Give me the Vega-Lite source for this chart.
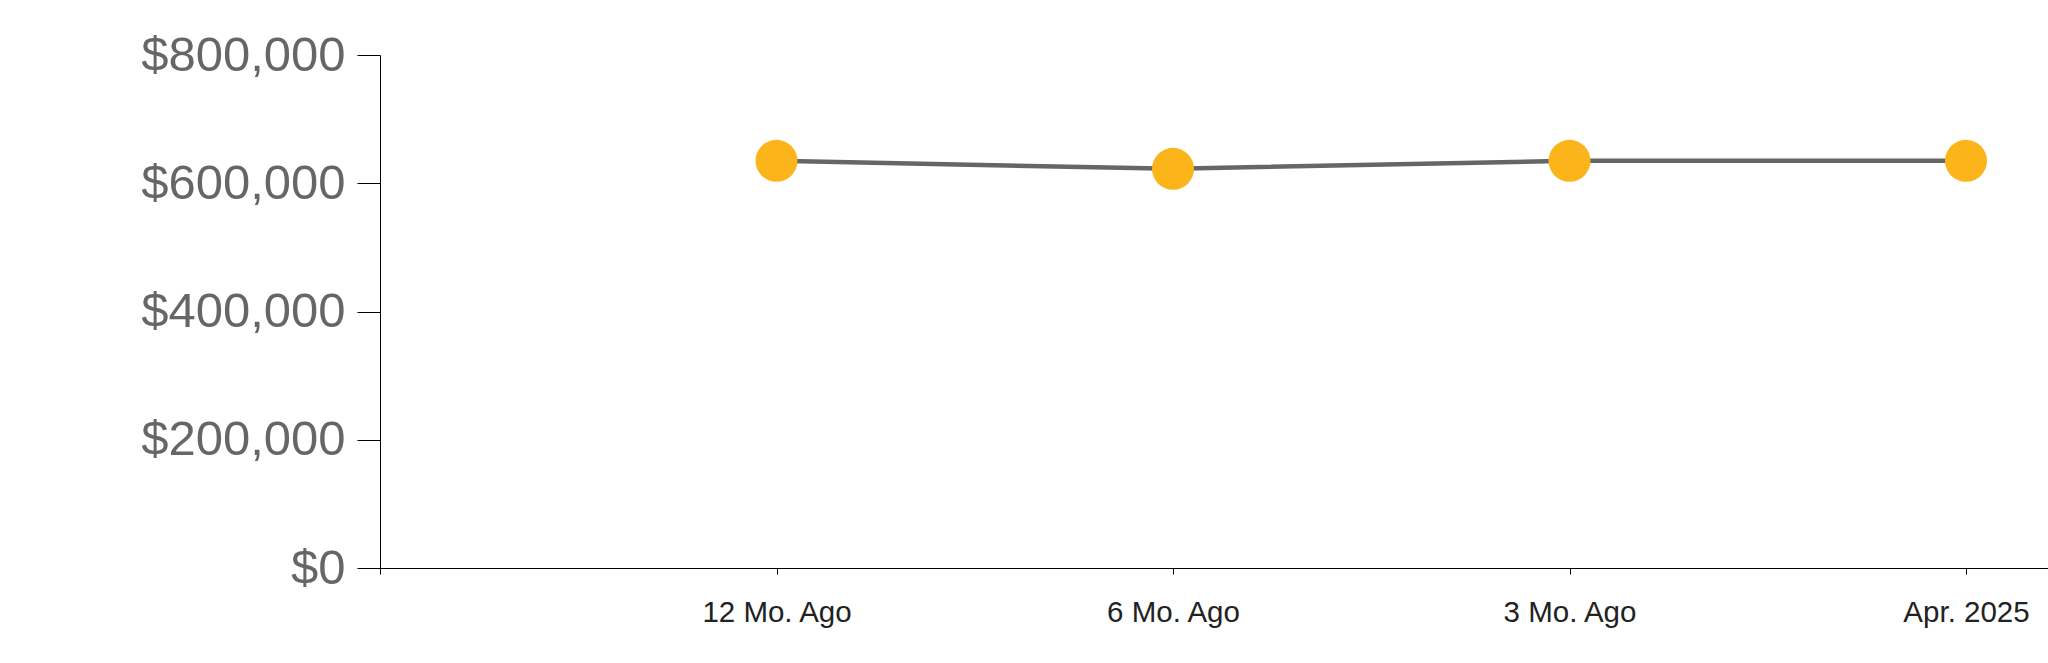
{
  "$schema": "https://vega.github.io/schema/vega-lite/v6.json",
  "autosize": "none",
  "padding": {"left": 380, "top": 55, "right": 0, "bottom": 95},
  "width": 1668,
  "height": 513,
  "background": "white",
  "config": {
    "view": {"stroke": null},
    "font": "Liberation Sans"
  },
  "data": {
    "values": [
      {"idx": 1, "period": "12 Mo. Ago", "price": 635000},
      {"idx": 2, "period": "6 Mo. Ago", "price": 622500},
      {"idx": 3, "period": "3 Mo. Ago", "price": 635000},
      {"idx": 4, "period": "Apr. 2025", "price": 635000}
    ]
  },
  "encoding": {
    "x": {
      "field": "idx",
      "type": "quantitative",
      "scale": {"domain": [0, 4.2068], "nice": false, "zero": false},
      "axis": {
        "title": null,
        "values": [0, 1, 2, 3, 4],
        "labelExpr": "datum.value == 1 ? '12 Mo. Ago' : datum.value == 2 ? '6 Mo. Ago' : datum.value == 3 ? '3 Mo. Ago' : datum.value == 4 ? 'Apr. 2025' : ''",
        "grid": false,
        "tickSize": 6,
        "tickColor": "#000000",
        "domainColor": "#000000",
        "labelFontSize": 29.5,
        "labelColor": "#222222",
        "labelPadding": 24,
        "labelFont": "Liberation Sans",
        "labelOverlap": false,
        "labelFlush": false,
        "labelLimit": 0
      }
    },
    "y": {
      "field": "price",
      "type": "quantitative",
      "scale": {"domain": [0, 800000], "nice": false},
      "axis": {
        "title": null,
        "values": [0, 200000, 400000, 600000, 800000],
        "format": "$,.0f",
        "grid": false,
        "tickSize": 23,
        "tickColor": "#000000",
        "domainColor": "#000000",
        "labelFontSize": 49,
        "labelColor": "#666666",
        "labelPadding": 12,
        "labelOffset": 0,
        "labelFont": "Liberation Sans",
        "labelOverlap": false,
        "labelFlush": false,
        "labelLimit": 0
      }
    }
  },
  "layer": [
    {"mark": {"type": "line", "color": "#666666", "strokeWidth": 4.5}},
    {"mark": {"type": "point", "filled": true, "opacity": 1, "color": "#FBB41A", "size": 1764}}
  ]
}
